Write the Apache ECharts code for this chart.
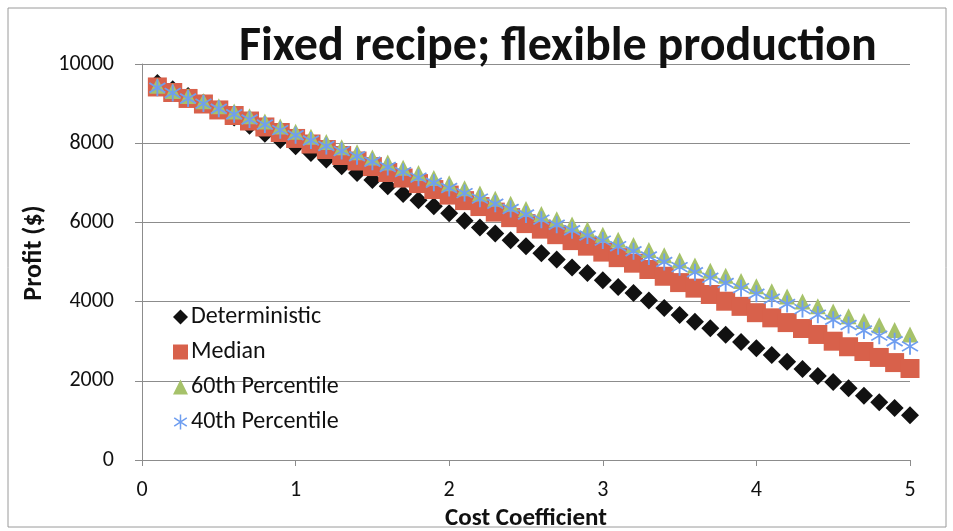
<!DOCTYPE html>
<html>
<head>
<meta charset="utf-8">
<script src="https://cdn.jsdelivr.net/npm/echarts@6/dist/echarts.min.js"></script>
<style>
    html, body { margin: 0; padding: 0; background: #fff; }
    #chart { width: 953px; height: 531px; }
</style>
</head>
<body>
<div id="chart"></div>
<script>
let costCoef = [
    0.1, 0.2, 0.3, 0.4, 0.5, 0.6, 0.7, 0.8, 0.9, 1.0,
    1.1, 1.2, 1.3, 1.4, 1.5, 1.6, 1.7, 1.8, 1.9, 2.0,
    2.1, 2.2, 2.3, 2.4, 2.5, 2.6, 2.7, 2.8, 2.9, 3.0,
    3.1, 3.2, 3.3, 3.4, 3.5, 3.6, 3.7, 3.8, 3.9, 4.0,
    4.1, 4.2, 4.3, 4.4, 4.5, 4.6, 4.7, 4.8, 4.9, 5.0
];

let deterministic = [
    9520, 9360, 9190, 9020, 8850, 8650, 8440, 8240, 8080, 7920,
    7750, 7590, 7420, 7250, 7070, 6910, 6720, 6560, 6410, 6230,
    6040, 5870, 5720, 5550, 5400, 5220, 5060, 4860, 4720, 4540,
    4370, 4220, 4030, 3840, 3660, 3490, 3330, 3160, 2980, 2820,
    2650, 2480, 2300, 2120, 1970, 1810, 1620, 1460, 1310, 1130
];

let median = [
    9420, 9280, 9130, 8990, 8840, 8700, 8560, 8410, 8270, 8120,
    7980, 7840, 7690, 7550, 7410, 7260, 7120, 6980, 6830, 6690,
    6550, 6400, 6260, 6120, 5970, 5830, 5690, 5540, 5400, 5250,
    5110, 4970, 4810, 4640, 4480, 4340, 4180, 4010, 3880, 3720,
    3590, 3470, 3320, 3170, 3000, 2860, 2740, 2590, 2460, 2310
];

let pct60 = [
    9450, 9320, 9190, 9060, 8930, 8800, 8680, 8550, 8420, 8290,
    8160, 8030, 7900, 7770, 7640, 7510, 7380, 7250, 7120, 6990,
    6860, 6730, 6600, 6470, 6340, 6210, 6080, 5950, 5820, 5690,
    5560, 5430, 5300, 5170, 5040, 4910, 4780, 4650, 4520, 4390,
    4260, 4130, 4000, 3880, 3750, 3630, 3510, 3400, 3280, 3170
];

let pct40 = [
    9400, 9270, 9130, 9000, 8870, 8730, 8600, 8470, 8330, 8200,
    8070, 7930, 7800, 7670, 7530, 7400, 7270, 7130, 7000, 6870,
    6740, 6600, 6470, 6340, 6200, 6070, 5940, 5800, 5670, 5540,
    5400, 5270, 5140, 5000, 4870, 4740, 4600, 4470, 4340, 4200,
    4070, 3940, 3810, 3670, 3540, 3410, 3270, 3140, 3000, 2870
];

let seriesNames = ['Deterministic', 'Median', '60th Percentile', '40th Percentile'];

// excel style "star" marker: vertical bar plus an X
let asteriskPath = 'path://M45 0L55 0L55 100L45 100Z' +
    'M10.77 17.84L94.77 73.84L89.23 82.16L5.23 26.16Z' +
    'M5.23 73.84L89.23 17.84L94.77 26.16L10.77 82.16Z';

let fontMain = 'Carlito, Lato, sans-serif';

function pairs(values) {
    return costCoef.map(function (x, i) { return [x, values[i]]; });
}

let chart = echarts.init(document.getElementById('chart'), null, { renderer: 'canvas' });

let option = {
    backgroundColor: '#fff',
    animation: false,
    textStyle: { fontFamily: fontMain },
    title: {
        text: 'Fixed recipe; flexible production',
        left: 234,
        top: 19,
        textStyle: {
            fontFamily: fontMain,
            fontSize: 48,
            fontWeight: 'bold',
            color: '#111'
        }
    },
    graphic: [
        {
            type: 'rect',
            shape: { x: 8, y: 8, width: 938, height: 519 },
            style: { fill: 'none', stroke: '#9a9a9a', lineWidth: 1 },
            silent: true
        }
    ],
    legend: {
        orient: 'vertical',
        left: 168,
        top: 300,
        itemGap: 11,
        itemWidth: 15,
        itemHeight: 15,
        data: seriesNames,
        textStyle: { fontFamily: fontMain, fontSize: 24, color: '#111', padding: [0, 0, 0, -2] }
    },
    grid: {
        left: 142,
        right: 43,
        top: 64,
        bottom: 71,
        containLabel: false,
        outerBoundsMode: 'none'
    },
    xAxis: {
        type: 'value',
        min: 0,
        max: 5,
        interval: 1,
        name: 'Cost Coefficient',
        nameLocation: 'middle',
        nameGap: 38,
        nameTextStyle: { fontFamily: fontMain, fontSize: 25, fontWeight: 'bold', color: '#111' },
        axisLine: { show: true, lineStyle: { color: '#8c8c8c', width: 1 } },
        axisTick: { show: true, inside: false, length: 6, lineStyle: { color: '#8c8c8c' } },
        axisLabel: { fontFamily: fontMain, fontSize: 22, color: '#111', margin: 19 },
        splitLine: { show: false }
    },
    yAxis: {
        type: 'value',
        min: 0,
        max: 10000,
        interval: 2000,
        name: 'Profit ($)',
        nameLocation: 'middle',
        nameGap: 78,
        nameRotate: 90,
        nameTextStyle: {
            fontFamily: fontMain,
            fontSize: 26,
            fontWeight: 'bold',
            color: '#111',
            padding: [0, 0, 0, 18]
        },
        axisLine: { show: true, lineStyle: { color: '#8c8c8c', width: 1 } },
        axisTick: { show: true, length: 7, lineStyle: { color: '#8c8c8c' } },
        axisLabel: {
            fontFamily: fontMain,
            fontSize: 22,
            color: '#111',
            margin: 28,
            formatter: function (v) { return String(v); }
        },
        splitLine: { show: true, lineStyle: { color: '#8c8c8c', width: 1 } }
    },
    series: [
        {
            name: 'Deterministic',
            type: 'scatter',
            symbol: 'diamond',
            symbolSize: 18,
            itemStyle: { color: '#111111', opacity: 1 },
            data: pairs(deterministic)
        },
        {
            name: 'Median',
            type: 'scatter',
            symbol: 'rect',
            symbolSize: 19,
            itemStyle: { color: '#d8614b', opacity: 1 },
            data: pairs(median)
        },
        {
            name: '60th Percentile',
            type: 'scatter',
            symbol: 'triangle',
            symbolSize: 16,
            itemStyle: { color: '#a6c26a', opacity: 1 },
            data: pairs(pct60)
        },
        {
            name: '40th Percentile',
            type: 'scatter',
            symbol: asteriskPath,
            symbolSize: 17,
            itemStyle: { color: '#6f9ef0', opacity: 1 },
            data: pairs(pct40)
        }
    ]
};

chart.setOption(option);
</script>
</body>
</html>
